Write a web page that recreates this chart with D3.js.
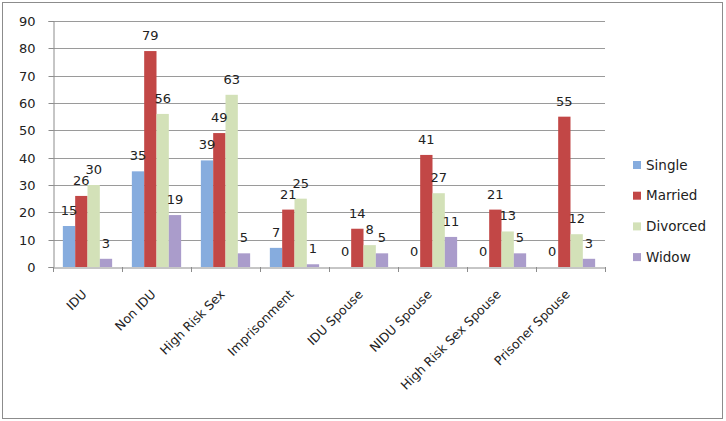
<!DOCTYPE html>
<html><head><meta charset="utf-8">
<script src="https://cdn.jsdelivr.net/npm/d3@7"></script>
<style>body{margin:0;background:#fff}svg{display:block}text{font-family:"DejaVu Sans",sans-serif;fill:#222}</style>
</head><body><svg width="726" height="421"></svg>
<script>
const categories = ["IDU","Non IDU","High Risk Sex","Imprisonment","IDU Spouse","NIDU Spouse","High Risk Sex Spouse","Prisoner Spouse"];
const seriesNames = ["Single","Married","Divorced","Widow"];
const single   = [15,35,39,7,0,0,0,0];
const married  = [26,79,49,21,14,41,21,55];
const divorced = [30,56,63,25,8,27,13,12];
const widow    = [3,19,5,1,5,11,5,3];
const yTicks = [0,10,20,30,40,50,60,70,80,90];
const colors = ["#86ACDE","#C24746","#D3E1B8","#AA9CCB"];
const seriesValues = [single, married, divorced, widow];

const svg = d3.select("svg");
svg.append("rect").attr("x",2.5).attr("y",2.5).attr("width",720).attr("height",416)
  .attr("fill","#fff").attr("stroke","#8c8c8c").attr("stroke-width",1);

const L=53, R=605, T=21, B=267;
const x = d3.scaleBand().domain(categories).range([L,R]).paddingInner(0).paddingOuter(0);
const xs = d3.scaleBand().domain(seriesNames).range([0,x.bandwidth()]).paddingInner(0).paddingOuter(0.8);
const y = d3.scaleLinear().domain([0,90]).range([B,T]);

// gridlines
svg.append("g").selectAll("line").data(yTicks.filter(d=>d>0)).join("line")
  .attr("x1",L).attr("x2",R).attr("y1",d=>Math.round(y(d))+0.5).attr("y2",d=>Math.round(y(d))+0.5)
  .attr("stroke","#9a9a9a").attr("stroke-width",1);

// y axis
const ya = svg.append("g").attr("transform",`translate(${L+0.5},0)`)
  .call(d3.axisLeft(y).tickValues(yTicks).tickSize(5).tickPadding(13));
ya.select(".domain").attr("stroke","#8c8c8c");
ya.selectAll(".tick line").attr("stroke","#8c8c8c");
ya.selectAll("text").attr("font-size",13).attr("font-family","DejaVu Sans").style("fill","#222");
ya.selectAll(".tick").attr("transform",d=>`translate(0,${Math.round(y(d))+0.5})`);

// bars
const groups = svg.append("g").selectAll("g").data(categories).join("g")
  .attr("transform",d=>`translate(${x(d)},0)`);
groups.selectAll("rect").data((c,i)=>seriesNames.map((s,j)=>({s,j,v:seriesValues[j][i]}))).join("rect")
  .attr("x",d=>xs(d.s)).attr("width",xs.bandwidth())
  .attr("y",d=>y(d.v)).attr("height",d=>B-y(d.v))
  .attr("fill",d=>colors[d.j]);
groups.selectAll("text").data((c,i)=>seriesNames.map((s,j)=>({s,j,v:seriesValues[j][i]}))).join("text")
  .attr("x",d=>xs(d.s)+xs.bandwidth()/2).attr("y",d=>y(d.v)-11)
  .attr("text-anchor","middle").attr("font-size",13).text(d=>d.v);

// x axis
const xa = svg.append("g").attr("transform",`translate(0,${B+0.5})`)
  .call(d3.axisBottom(x).tickSize(0).tickFormat(""));
xa.select(".domain").attr("stroke","#8c8c8c");
svg.append("g").selectAll("line").data(d3.range(categories.length+1)).join("line")
  .attr("x1",i=>Math.round(L+i*x.bandwidth())+0.5).attr("x2",i=>Math.round(L+i*x.bandwidth())+0.5)
  .attr("y1",B).attr("y2",B+5).attr("stroke","#8c8c8c");
svg.append("g").selectAll("text").data(categories).join("text")
  .attr("transform",d=>`translate(${x(d)+x.bandwidth()/2-3},${B+25}) rotate(-45)`)
  .attr("text-anchor","end").attr("dy","0.35em").attr("font-size",12.5).text(d=>d);

// legend
const lg = svg.append("g").selectAll("g").data(seriesNames).join("g")
  .attr("transform",(d,i)=>`translate(633,${165+i*30.7})`);
lg.append("rect").attr("x",0).attr("y",-4).attr("width",8).attr("height",8).attr("fill",(d,i)=>colors[i]);
lg.append("text").attr("x",13).attr("dy","0.35em").attr("font-size",13.5).text(d=>d);
</script></body></html>
